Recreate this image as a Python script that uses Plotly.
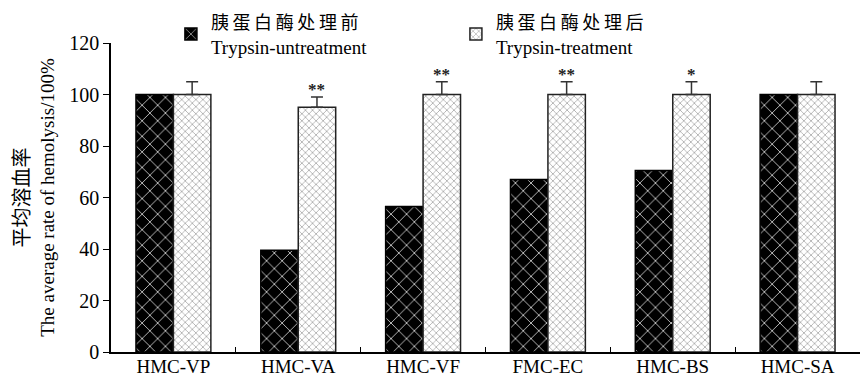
import plotly.graph_objects as go

categories = ["HMC-VP", "HMC-VA", "HMC-VF", "FMC-EC", "HMC-BS", "HMC-SA"]
untreated = [100, 39.5, 56.5, 67, 70.5, 100]
treated = [100, 95, 100, 100, 100, 100]
treated_err = [5, 4, 5, 5, 5, 5]
significance = ["", "**", "**", "**", "*", ""]
TS = "\u2009"
CJK = '<span style="font-family:\'Noto Sans CJK SC\';font-size:%dpx;color:black">%s</span>'
name_untreated = CJK % (18, TS.join("胰蛋白酶处理前")) + "<br>Trypsin-untreatment"
name_treated = CJK % (18, TS.join("胰蛋白酶处理后")) + "<br>Trypsin-treatment"
y_title = CJK % (20, "平均溶血率") + "<br>The average rate of hemolysis/100%"
y_ticks = [0, 20, 40, 60, 80, 100, 120]

FONT = "Liberation Serif, Times New Roman, Noto Sans CJK SC, serif"

fig = go.Figure()
fig.add_trace(go.Bar(
    x=categories, y=untreated, name=name_untreated,
    marker=dict(color="black", line=dict(color="black", width=1.5),
                pattern=dict(shape="x", bgcolor="black", fgcolor="#e0e0e0",
                             size=11, solidity=0.14, fillmode="replace")),
))
fig.add_trace(go.Bar(
    x=categories, y=treated, name=name_treated,
    marker=dict(color="white", line=dict(color="#222", width=1.5),
                pattern=dict(shape="x", bgcolor="white", fgcolor="#999",
                             size=5, solidity=0.25, fillmode="replace")),
    error_y=dict(type="data", array=treated_err, arrayminus=[0]*len(treated_err),
                 symmetric=False, color="#333", thickness=1.5, width=6),
))

for i, (s, v, e) in enumerate(zip(significance, treated, treated_err)):
    if s:
        fig.add_annotation(x=i + 0.15, y=v + e, text="<b>" + s + "</b>", showarrow=False,
                           yanchor="bottom", yshift=-4,
                           font=dict(family=FONT, size=17, color="#222"))

fig.update_layout(
    width=862, height=377,
    margin=dict(l=111, r=2, t=43, b=25, autoexpand=False),
    paper_bgcolor="white", plot_bgcolor="white",
    font=dict(family=FONT, size=18, color="black"),
    barmode="group", bargap=0.4, bargroupgap=0,
    showlegend=True,
    legend=dict(orientation="h", x=0.08, y=1.13, xanchor="left", yanchor="top",
                entrywidth=240, entrywidthmode="pixels",
                font=dict(family=FONT, size=19, color="black"), bgcolor="rgba(0,0,0,0)",
                valign="middle", tracegroupgap=0),
    xaxis=dict(showline=True, linecolor="black", linewidth=1.5, ticks="inside",
               tickson="boundaries", ticklen=5, tickcolor="black",
               ticklabelstandoff=-4,
               tickfont=dict(family=FONT, size=19, color="black"), showgrid=False, zeroline=False),
    yaxis=dict(range=[0, 120], tickvals=y_ticks, showline=True, linecolor="black",
               linewidth=1.5, ticks="outside", ticklen=6, tickcolor="black",
               tickfont=dict(family=FONT, size=20, color="black"), showgrid=False, zeroline=False,
               title=dict(text=y_title,
                          font=dict(family=FONT, size=19, color="black"), standoff=10)),
)

fig.write_html("out.html", config={"displayModeBar": False})
with open("out.html", encoding="utf-8") as f:
    html = f.read()
html = html.replace("<body>", '<body style="margin:0;padding:0;">', 1)
with open("out.html", "w", encoding="utf-8") as f:
    f.write(html)
